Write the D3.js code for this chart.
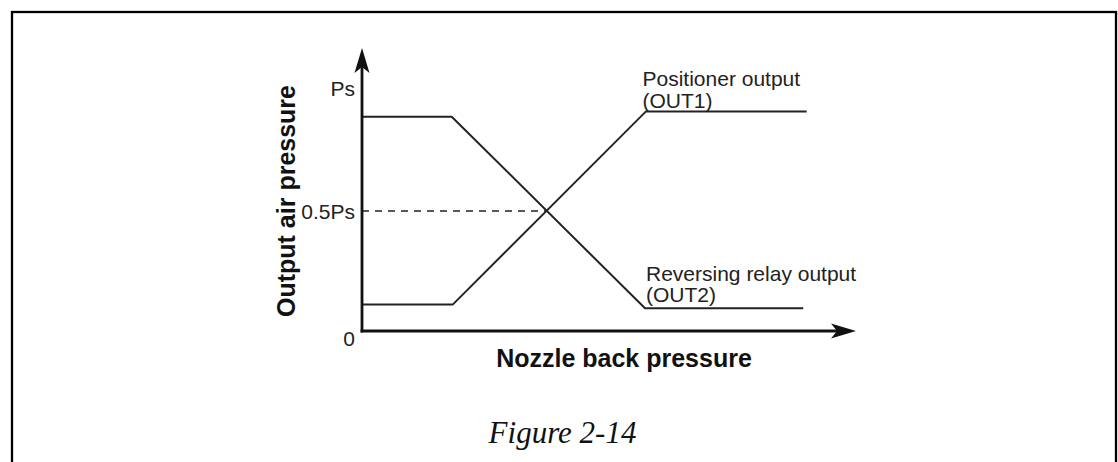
<!DOCTYPE html>
<html>
<head>
<meta charset="utf-8">
<script src="https://cdn.jsdelivr.net/npm/d3@7"></script>
<style>
  html, body { margin: 0; padding: 0; background: #fff; }
  svg { display: block; }
</style>
</head>
<body>
<svg id="chart" width="1118" height="462"></svg>
<script>
// ---- Data (arbitrary units: x = nozzle back pressure 0..10, y = fraction of Ps) ----
const out1X = [0, 1.84, 5.76, 9.02];
const out1Y = [0.11, 0.11, 0.915, 0.915];
const out2X = [0, 1.82, 5.74, 8.95];
const out2Y = [0.893, 0.893, 0.095, 0.095];
const tickValues = [0, 0.5, 1];
const tickLabels = ["0", "0.5Ps", "Ps"];
const halfValue = 0.5;
const crossX = 3.73;
const out1Label = ["Positioner output", "(OUT1)"];
const out2Label = ["Reversing relay output", "(OUT2)"];
const xTitle = "Nozzle back pressure";
const yTitle = "Output air pressure";
const caption = "Figure 2-14";

const svg = d3.select("#chart");

// frame
svg.append("rect")
  .attr("x", 12).attr("y", 12)
  .attr("width", 1104).attr("height", 480)
  .attr("fill", "none").attr("stroke", "#000").attr("stroke-width", 2.3);

const x0 = 362, y0 = 331;
const x = d3.scaleLinear().domain([0, 10]).range([x0, 855]);
const y = d3.scaleLinear().domain([0, 1]).range([y0, 91]);

// dashed 0.5Ps guide
svg.append("line")
  .attr("x1", x(0)).attr("x2", x(crossX))
  .attr("y1", y(halfValue)).attr("y2", y(halfValue))
  .attr("stroke", "#222").attr("stroke-width", 1.4)
  .attr("stroke-dasharray", "7,6");

// curves
const line = d3.line().x(d => x(d[0])).y(d => y(d[1]));
const series = [
  out1X.map((v, i) => [v, out1Y[i]]),
  out2X.map((v, i) => [v, out2Y[i]])
];
svg.selectAll("path.curve").data(series).enter().append("path")
  .attr("class", "curve")
  .attr("d", line)
  .attr("fill", "none")
  .attr("stroke", "#222")
  .attr("stroke-width", 2)
  .attr("stroke-linejoin", "miter");

// axes lines
const axisColor = "#111";
svg.append("line").attr("x1", x0).attr("x2", x0).attr("y1", y0 + 1.5).attr("y2", 62)
  .attr("stroke", axisColor).attr("stroke-width", 2.8);
svg.append("line").attr("x1", x0 - 1.4).attr("x2", 845).attr("y1", y0).attr("y2", y0)
  .attr("stroke", axisColor).attr("stroke-width", 2.8);
// arrowheads
svg.append("path")
  .attr("d", `M${x0},48 L${x0 + 7.5},73 L${x0},67 L${x0 - 7.5},73 Z`)
  .attr("fill", axisColor);
svg.append("path")
  .attr("d", `M856,${y0} L831,${y0 - 7.5} L837,${y0} L831,${y0 + 7.5} Z`)
  .attr("fill", axisColor);

// tick labels via axis
const yAxis = d3.axisLeft(y).tickValues(tickValues).tickSize(0).tickPadding(7)
  .tickFormat((d, i) => tickLabels[i]);
const gy = svg.append("g").attr("transform", `translate(${x0},0)`).call(yAxis);
gy.select(".domain").remove();
gy.selectAll("text")
  .attr("font-family", "'Liberation Sans', Arial, sans-serif")
  .attr("font-size", 21)
  .attr("fill", "#222")
  .attr("dy", (d, i) => [0.68, 0.37, 0.2][i] + "em");

// series labels
const lblFont = "'Liberation Sans', Arial, sans-serif";
function addLabel(lines, lx, ly, gap) {
  const t = svg.append("text")
    .attr("font-family", lblFont).attr("font-size", 21).attr("fill", "#222");
  lines.forEach((s, i) => {
    t.append("tspan").attr("x", lx).attr("y", ly + i * gap).text(s);
  });
}
addLabel(out1Label, 642.5, 86, 22);
addLabel(out2Label, 646, 280.5, 21.5);

// axis titles
svg.append("text")
  .attr("x", 624).attr("y", 366.5)
  .attr("text-anchor", "middle")
  .attr("font-family", lblFont).attr("font-weight", "bold")
  .attr("font-size", 25).attr("fill", "#111")
  .text(xTitle);
svg.append("text")
  .attr("transform", "translate(295,201) rotate(-90)")
  .attr("text-anchor", "middle")
  .attr("font-family", lblFont).attr("font-weight", "bold")
  .attr("font-size", 25).attr("fill", "#111")
  .text(yTitle);

// caption
svg.append("text")
  .attr("x", 562.5).attr("y", 443)
  .attr("text-anchor", "middle")
  .attr("font-family", "'Liberation Serif', 'Times New Roman', serif")
  .attr("font-style", "italic")
  .attr("font-size", 31).attr("fill", "#111")
  .text(caption);
</script>
</body>
</html>
